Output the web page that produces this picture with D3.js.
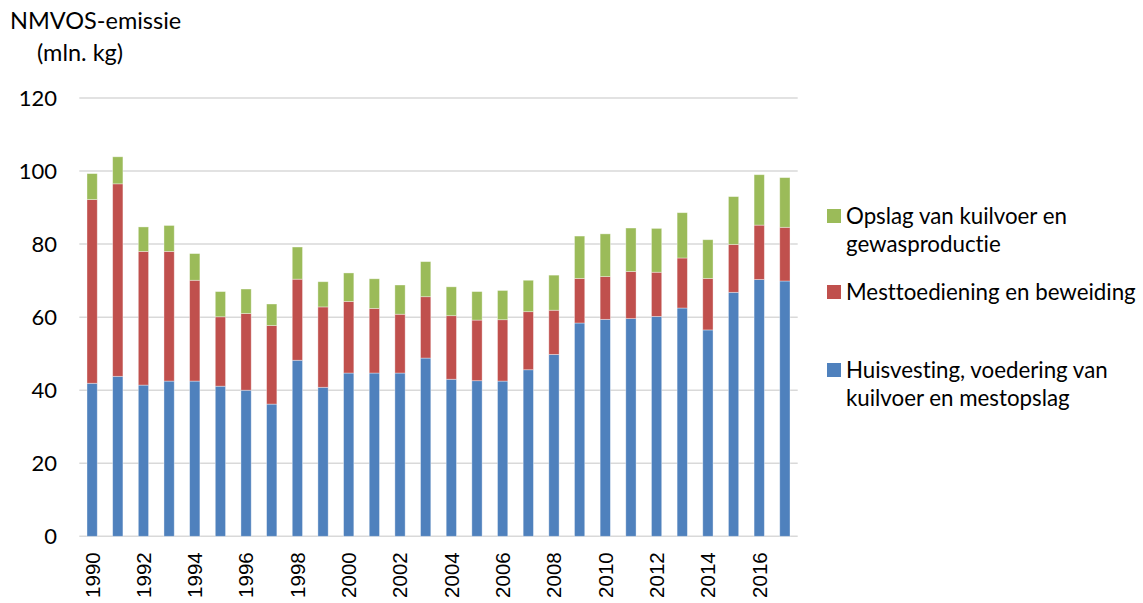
<!DOCTYPE html>
<html>
<head>
<meta charset="utf-8">
<script src="https://cdn.jsdelivr.net/npm/d3@7"></script>
<style>
  body { margin: 0; background: #fff; }
  text { fill: #000; font-variant-ligatures: none; }
</style>
</head>
<body>
<div id="chart"></div>
<script>
const years = [1990, 1991, 1992, 1993, 1994, 1995, 1996, 1997, 1998, 1999,
  2000, 2001, 2002, 2003, 2004, 2005, 2006, 2007, 2008, 2009,
  2010, 2011, 2012, 2013, 2014, 2015, 2016, 2017];
// Huisvesting, voedering van kuilvoer en mestopslag
const huisvesting = [41.9, 43.8, 41.4, 42.5, 42.5, 41.1, 40.0, 36.2, 48.2, 40.8,
  44.7, 44.7, 44.7, 48.8, 43.0, 42.6, 42.5, 45.6, 49.8, 58.4,
  59.4, 59.6, 60.2, 62.5, 56.5, 66.8, 70.3, 69.9];
// Mesttoediening en beweiding
const mesttoediening = [50.3, 52.7, 36.6, 35.5, 27.6, 19.0, 21.0, 21.5, 22.2, 22.0,
  19.6, 17.7, 16.1, 16.8, 17.4, 16.6, 16.8, 15.9, 12.1, 12.2,
  11.7, 12.9, 12.1, 13.7, 14.1, 13.1, 14.9, 14.7];
// Opslag van kuilvoer en gewasproductie
const opslag = [7.1, 7.4, 6.7, 7.1, 7.3, 6.9, 6.7, 5.9, 8.8, 6.9,
  7.8, 8.1, 8.0, 9.6, 7.9, 7.8, 8.0, 8.6, 9.6, 11.6,
  11.7, 11.9, 12.0, 12.4, 10.6, 13.1, 13.8, 13.6];
const yTicks = [0, 20, 40, 60, 80, 100, 120];
const seriesKeys = ['huisvesting', 'mesttoediening', 'opslag'];
const seriesColors = ['#4F81BD', '#C0504D', '#9BBB59'];
const legendLabels = [
  ['Opslag van kuilvoer en', 'gewasproductie'],
  ['Mesttoediening en beweiding'],
  ['Huisvesting, voedering van', 'kuilvoer en mestopslag'],
];

const width = 1143;
const height = 603;
const uiFont = 'Lato, "Open Sans", sans-serif';

const svg = d3.select('#chart')
  .append('svg')
  .attr('width', width)
  .attr('height', height);

const rows = years.map((y, i) => ({
  year: y,
  huisvesting: huisvesting[i],
  mesttoediening: mesttoediening[i],
  opslag: opslag[i],
}));

const x = d3.scaleBand()
  .domain(years)
  .range([79.3, 797.7])
  .paddingInner(0.6)
  .paddingOuter(0.3);
const y = d3.scaleLinear()
  .domain([0, 120])
  .range([536.3, 98]);

// gridlines
svg.append('g')
  .selectAll('line')
  .data(yTicks)
  .enter()
  .append('line')
  .attr('x1', 79.3)
  .attr('x2', 797.7)
  .attr('y1', (d) => y(d))
  .attr('y2', (d) => y(d))
  .attr('stroke', '#D9D9D9')
  .attr('stroke-width', 1.5);

// y axis labels
const yAxis = d3.axisLeft(y).tickValues(yTicks).tickSize(0).tickPadding(0);
const gy = svg.append('g')
  .attr('transform', 'translate(57,0)')
  .call(yAxis);
gy.select('.domain').remove();
gy.selectAll('text')
  .attr('font-family', uiFont)
  .attr('font-size', 22)
  .attr('fill', '#000');

// stacked bars
const stacked = d3.stack().keys(seriesKeys)(rows);
svg.selectAll('.serie')
  .data(stacked)
  .enter()
  .append('g')
  .attr('class', 'serie')
  .attr('fill', (d, i) => seriesColors[i])
  .selectAll('rect')
  .data((d) => d)
  .enter()
  .append('rect')
  .attr('x', (d) => x(d.data.year))
  .attr('width', x.bandwidth())
  .attr('y', (d) => y(d[1]))
  .attr('height', (d) => y(d[0]) - y(d[1]))
  .attr('stroke', '#fff')
  .attr('stroke-opacity', 0.45)
  .attr('stroke-width', 0.8);

// x axis labels (even years only)
const xAxis = d3.axisBottom(x)
  .tickValues(years.filter((d) => d % 2 === 0))
  .tickSize(0)
  .tickPadding(0);
const gx = svg.append('g')
  .attr('transform', 'translate(0,536.3)')
  .call(xAxis);
gx.select('.domain').remove();
gx.selectAll('text')
  .attr('font-family', '"Liberation Sans", Arial, sans-serif')
  .attr('font-size', 20.5)
  .attr('fill', '#000')
  .attr('text-anchor', 'end')
  .attr('transform', 'rotate(-90)')
  .attr('x', -16)
  .attr('y', 0)
  .attr('dy', '0.36em');

// axis title
svg.append('text')
  .attr('x', 10)
  .attr('y', 29)
  .attr('font-family', uiFont)
  .attr('font-size', 23.5)
  .text('NMVOS-emissie');
svg.append('text')
  .attr('x', 37)
  .attr('y', 61)
  .attr('font-family', uiFont)
  .attr('font-size', 23.5)
  .text('(mln. kg)');

// legend
const legendY = [216, 292, 370];
const legendOrder = [2, 1, 0];
const legend = svg.selectAll('.legend')
  .data(legendOrder)
  .enter()
  .append('g')
  .attr('class', 'legend')
  .attr('transform', (d, i) => `translate(827,${legendY[i]})`);
legend.append('rect')
  .attr('x', 0)
  .attr('y', -7)
  .attr('width', 14)
  .attr('height', 14)
  .attr('fill', (d) => seriesColors[d]);
legend.append('text')
  .attr('font-family', uiFont)
  .attr('font-size', 22.3)
  .selectAll('tspan')
  .data((d, i) => legendLabels[i])
  .enter()
  .append('tspan')
  .attr('x', 19)
  .attr('y', (d, j) => 8 + j * 28)
  .text((d) => d);
</script>
</body>
</html>
